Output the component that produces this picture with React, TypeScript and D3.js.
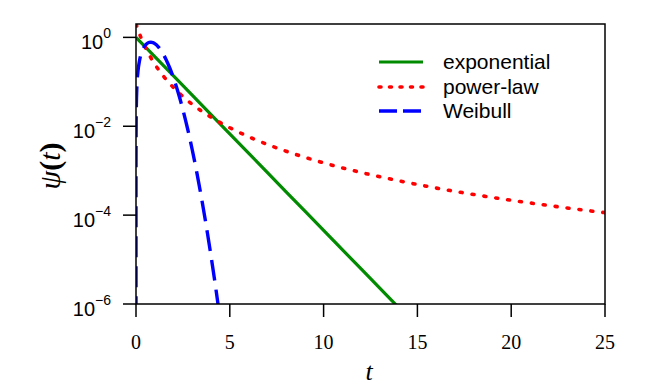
import React from "react";
import * as d3 from "d3";

// values (log y axis)
const expT = [0, 2, 4, 6, 8, 10, 12, 14];
const expPsi = [1, 0.1353, 0.0183, 0.00248, 3.35e-4, 4.54e-5, 6.14e-6, 8.3e-7];

const powT = [0, 0.25, 0.5, 0.75, 1, 1.5, 2, 2.5, 3, 4, 5, 6, 7, 8, 9, 10, 12, 14, 16, 18, 20, 22, 24, 25];
const powPsi = [
  2, 1.024, 0.5926, 0.3732, 0.25, 0.128, 0.07407, 0.04665, 0.03125, 0.016, 0.009259, 0.005831,
  0.003906, 0.002743, 0.002, 0.001503, 9.1e-4, 5.93e-4, 4.07e-4, 2.916e-4, 2.16e-4, 1.644e-4,
  1.28e-4, 1.138e-4,
];

const weiT = [
  0, 1e-6, 1e-5, 1e-4, 0.001, 0.01, 0.05, 0.1, 0.2, 0.3, 0.4, 0.5, 0.6, 0.7, 0.8, 0.9, 1.0, 1.2,
  1.4, 1.6, 1.8, 2.0, 2.25, 2.5, 2.75, 3.0, 3.25, 3.5, 3.75, 4.0, 4.25, 4.5,
];
const weiPsi = [
  1e-9, 1.65e-6, 1.65e-5, 1.65e-4, 1.65e-3, 0.01653, 0.08247, 0.1639, 0.3198, 0.4603, 0.5793,
  0.6722, 0.7366, 0.7718, 0.7792, 0.7617, 0.7233, 0.6034, 0.4581, 0.3188, 0.2045, 0.1213, 0.0567,
  0.02362, 0.008782, 0.002921, 8.7e-4, 2.322e-4, 5.566e-5, 1.198e-5, 2.315e-6, 4.02e-7,
];

const xTicks = [0, 5, 10, 15, 20, 25];
const yTicks = [0, -2, -4, -6];

const series = [
  { name: "exponential", t: expT, psi: expPsi, color: "#008B00", dash: "none", width: 3.2 },
  { name: "power-law", t: powT, psi: powPsi, color: "#FF0000", dash: "2 10", width: 3.6 },
  { name: "Weibull", t: weiT, psi: weiPsi, color: "#0000FF", dash: "21 9", width: 3.4 },
];

const W = 654;
const H = 387;
const m = { left: 136, right: 605, top: 24, bottom: 304 };

export default function App() {
  const x = d3.scaleLinear().domain([0, 25]).range([m.left, m.right]);
  const y = d3.scaleLog().domain([1e-6, 2]).range([m.bottom, m.top]);

  const line = d3
    .line<[number, number]>()
    .x((d) => x(d[0]))
    .y((d) => y(d[1]))
    .curve(d3.curveMonotoneX);

  const sans = "'Liberation Sans', Arial, sans-serif";
  const serif = "'Liberation Serif', 'Times New Roman', serif";

  return (
    <svg
      width={W}
      height={H}
      style={{ position: "absolute", left: 0, top: 0, background: "#fff" }}
    >
      <defs>
        <clipPath id="plot">
          <rect x={m.left} y={m.top} width={m.right - m.left} height={m.bottom - m.top} />
        </clipPath>
      </defs>

      <g clipPath="url(#plot)">
        {series.map((s) => (
          <path
            key={s.name}
            d={line(s.t.map((t, i) => [t, s.psi[i]] as [number, number])) || ""}
            fill="none"
            stroke={s.color}
            strokeWidth={s.width}
            strokeDasharray={s.dash}
            strokeLinecap={s.dash === "2 10" ? "round" : "butt"}
          />
        ))}
      </g>

      <rect
        x={m.left}
        y={m.top}
        width={m.right - m.left}
        height={m.bottom - m.top}
        fill="none"
        stroke="#000"
        strokeWidth={1.5}
      />

      {/* x axis */}
      {xTicks.map((t) => (
        <g key={t}>
          <line x1={x(t)} x2={x(t)} y1={m.bottom} y2={m.bottom + 13} stroke="#000" strokeWidth={1.5} />
          <text x={x(t)} y={349} textAnchor="middle" fontFamily={serif} fontSize={20}>
            {t}
          </text>
        </g>
      ))}
      <text x={369} y={380} textAnchor="middle" fontFamily={serif} fontStyle="italic" fontSize={26}>
        t
      </text>

      {/* y axis */}
      {yTicks.map((p) => (
        <g key={p}>
          <line x1={m.left - 13} x2={m.left} y1={y(10 ** p)} y2={y(10 ** p)} stroke="#000" strokeWidth={1.5} />
          <text x={111} y={y(10 ** p) + 12} textAnchor="end" fontFamily={sans} fontSize={20}>
            10
            <tspan dy={-11} fontSize={14}>
              {p === 0 ? "0" : "\u2212" + -p}
            </tspan>
          </text>
        </g>
      ))}
      <text
        transform={`translate(60,166) rotate(-90)`}
        textAnchor="middle"
        fontFamily={serif}
        fontSize={30}
      >
        <tspan fontStyle="italic">ψ</tspan>
        <tspan fontWeight="bold">(</tspan>
        <tspan fontStyle="italic">t</tspan>
        <tspan fontWeight="bold">)</tspan>
      </text>

      {/* legend */}
      {series.map((s, i) => {
        const ly = [62, 87, 111][i];
        return (
          <g key={s.name}>
            <line
              x1={379}
              x2={423}
              y1={ly}
              y2={ly}
              stroke={s.color}
              strokeWidth={s.width}
              strokeDasharray={s.dash === "2 10" ? "2 8.5" : s.dash === "none" ? "none" : "18 6"}
              strokeLinecap={s.dash === "2 10" ? "round" : "butt"}
            />
            <text x={443} y={ly + 7} fontFamily={sans} fontSize={21}>
              {s.name}
            </text>
          </g>
        );
      })}
    </svg>
  );
}
